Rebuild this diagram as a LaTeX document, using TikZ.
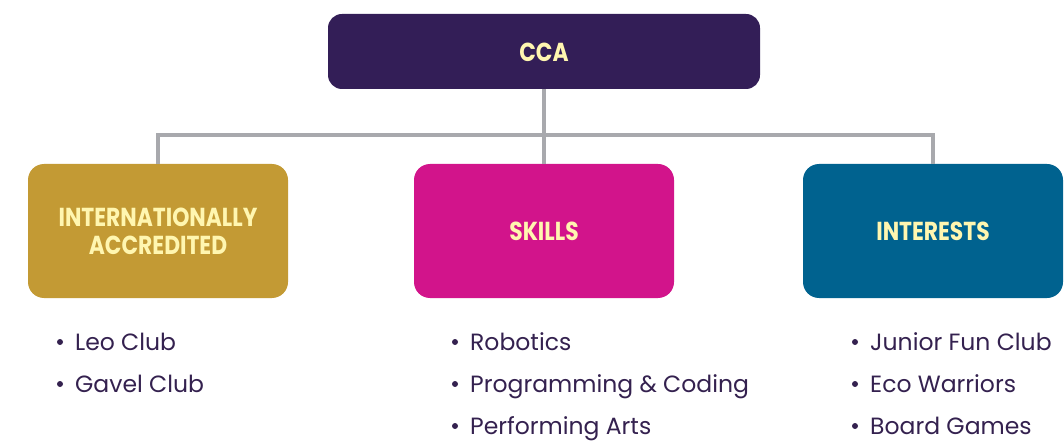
\documentclass[tikz,border=0pt]{standalone}
\usepackage{fontspec}
\setmainfont{Poppins}
\definecolor{ccapurple}{HTML}{331E57}
\definecolor{gold}{HTML}{C39A34}
\definecolor{magenta}{HTML}{D2148B}
\definecolor{teal}{HTML}{00628F}
\definecolor{linegray}{HTML}{A8A9AD}
\definecolor{boxtext}{HTML}{FFF6B0}
\definecolor{itemtext}{HTML}{34214F}
\newcommand{\boxlabel}[1]{\raisebox{-10.2pt}[0pt][0pt]{\scalebox{0.84}[1]{\begin{tabular}{@{}c@{}}#1\end{tabular}}}}
\begin{document}
\begin{tikzpicture}[x=1pt,y=1pt]
\useasboundingbox (0,0) rectangle (1064,442);
\tikzset{
  box/.style={rounded corners=16pt, draw=none, minimum width=260pt, minimum height=134pt, inner sep=0pt, text=boxtext, font=\fontsize{26}{28}\selectfont\bfseries, align=center},
  item/.style={anchor=base west, text=itemtext, font=\fontsize{23.5}{28}\selectfont, inner sep=0pt},
  dot/.style={circle, fill=itemtext, inner sep=0pt, minimum size=6pt}
}
\tikzset{link/.style={draw=linegray, line width=4pt}}
\node[box, fill=ccapurple, minimum width=432pt, minimum height=75pt, rounded corners=14pt] (cca) at (544,390.5) {\boxlabel{CCA}};
\node[box, fill=gold] (acc) at (158,211) {\boxlabel{INTERNATIONALLY\\ACCREDITED}};
\node[box, fill=magenta] (skills) at (544,211) {\boxlabel{SKILLS}};
\node[box, fill=teal] (int) at (933,211) {\boxlabel{INTERESTS}};
\coordinate (bar) at (0,307);
\draw[link] (cca.south) -- (skills.north);
\draw[link] (acc.north) -- (acc.north |- bar) -- (int.north |- bar) -- (int.north);
\foreach \n/\x/\y/\t in {a1/75/92/Leo Club, a2/75/50/Gavel Club,
  b1/470/92/Robotics, b2/470/50/Programming \& Coding, b3/470/8/Performing Arts,
  c1/870/92/Junior Fun Club, c2/870/50/Eco Warriors, c3/870/8/Board Games}{
  \node[item] (\n) at (\x,\y) {\t};
  \node[dot] (\n d) at (\x-15,\y+8) {};
}
\end{tikzpicture}
\end{document}
